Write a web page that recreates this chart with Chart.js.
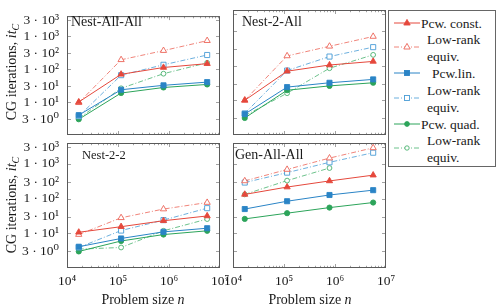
<!DOCTYPE html>
<html><head><meta charset="utf-8">
<script src="https://cdn.jsdelivr.net/npm/chart.js@4.4.1/dist/chart.umd.min.js"></script>
<style>
html,body{margin:0;padding:0;background:#fff}
body{width:498px;height:308px;position:relative;overflow:hidden;font-family:"Liberation Serif","DejaVu Serif",serif;color:#1a1a1a}
canvas.cv{position:absolute;left:0;top:0}
.t{position:absolute;white-space:nowrap;line-height:1}
.ytitle{position:absolute;white-space:nowrap;font-size:14px;line-height:1;transform:translate(-50%,-50%) rotate(-90deg)}
.sub{font-size:10px;position:relative;top:3px}
#legend{position:absolute;left:388px;top:10px;width:108px;height:157px;border:1px solid #666;box-sizing:border-box;background:#fff}
.lg{position:absolute;font-size:13.5px;line-height:1;white-space:nowrap}
svg.mk{position:absolute}
</style></head>
<body>
<canvas class="cv" id="c0" width="498" height="308"></canvas>
<canvas class="cv" id="c1" width="498" height="308"></canvas>
<canvas class="cv" id="c2" width="498" height="308"></canvas>
<canvas class="cv" id="c3" width="498" height="308"></canvas>
<div id="overlay"></div>
<script>
// ---------- data ----------
const problemSizes = [1.7e4, 1.15e5, 7.8e5, 5.6e6];
const xTickValues = [1e4, 1e5, 1e6, 1e7];
const xTickLabels = ['10\u2074', '10\u2075', '10\u2076', '10\u2077'];
const yTickValues = [3, 10, 30, 100, 300, 1000, 3000];
const yTickLabels = ['3 \u00b7 10\u2070', '1 \u00b7 10\u00b9', '3 \u00b7 10\u00b9', '1 \u00b7 10\u00b2', '3 \u00b7 10\u00b2', '1 \u00b7 10\u00b3', '3 \u00b7 10\u00b3'];
const seriesLabels = ['Pcw. const.', 'Low-rank equiv.', 'Pcw.lin.', 'Low-rank equiv.', 'Pcw. quad.', 'Low-rank equiv.'];
const panelTitles = ['Nest-All-All', 'Nest-2-All', 'Nest-2-2', 'Gen-All-All'];

// Nest-All-All
const nestAllAllConst   = [10, 69, 111, 145];
const nestAllAllConstLR = [9.5, 190, 360, 720];
const nestAllAllLin     = [4.0, 23.5, 32, 40];
const nestAllAllLinLR   = [3.7, 65, 134, 265];
const nestAllAllQuad    = [3.0, 18.7, 27.5, 34];
const nestAllAllQuadLR  = [3.2, 26, 72, 154];
// Nest-2-All
const nest2AllConst   = [10, 69, 104, 132];
const nest2AllConstLR = [10, 190, 360, 690];
const nest2AllLin     = [4.0, 24, 32, 40];
const nest2AllLinLR   = [4.2, 72, 182, 340];
const nest2AllQuad    = [3.1, 19.5, 26, 32];
const nest2AllQuadLR  = [3.6, 16, 84, 204];
// Nest-2-2
const nest22Const   = [10.7, 15.5, 23, 31.6];
const nest22ConstLR = [9.2, 28, 50, 77];
const nest22Lin     = [4.1, 7.1, 11, 14];
const nest22LinLR   = [3.9, 12, 24, 53];
const nest22Quad    = [3.0, 6.0, 9.2, 11.8];
const nest22QuadLR  = [3.5, 3.9, 11.8, 25.7];
// Gen-All-All
const genAllAllConst   = [132, 215, 323, 474];
const genAllAllConstLR = [323, 690, 1470, 2900];
const genAllAllLin     = [50, 84, 127, 175];
const genAllAllLinLR   = [290, 560, 1110, 2100];
const genAllAllQuad    = [26, 38, 55, 77];
const genAllAllQuadLR  = [132, 330, 760, null];

const panelSeries = [
  [nestAllAllConst, nestAllAllConstLR, nestAllAllLin, nestAllAllLinLR, nestAllAllQuad, nestAllAllQuadLR],
  [nest2AllConst, nest2AllConstLR, nest2AllLin, nest2AllLinLR, nest2AllQuad, nest2AllQuadLR],
  [nest22Const, nest22ConstLR, nest22Lin, nest22LinLR, nest22Quad, nest22QuadLR],
  [genAllAllConst, genAllAllConstLR, genAllAllLin, genAllAllLinLR, genAllAllQuad, genAllAllQuadLR]
];

// ---------- styles ----------
const RED = 'rgb(229,72,60)', BLUE = 'rgb(42,132,198)', GREEN = 'rgb(44,164,90)';
const REDL = 'rgb(236,100,88)', BLUEL = 'rgb(72,156,214)', GREENL = 'rgb(72,178,110)';
const DASH = [5, 2, 1, 2];
const styles = [
  {line: RED,   mk: RED,   dash: [],   lw: 1.0, ps: 'triangle', r: 3.6, filled: true},
  {line: REDL,  mk: REDL,  dash: DASH, lw: 0.8, ps: 'triangle', r: 3.6, filled: false},
  {line: BLUE,  mk: BLUE,  dash: [],   lw: 1.0, ps: 'rect',     r: 3.6, filled: true},
  {line: BLUEL, mk: BLUEL, dash: DASH, lw: 0.8, ps: 'rect',     r: 3.6, filled: false},
  {line: GREEN, mk: GREEN, dash: [],   lw: 1.0, ps: 'circle',   r: 2.6, filled: true},
  {line: GREENL,mk: GREENL,dash: DASH, lw: 0.8, ps: 'circle',   r: 2.4, filled: false}
];

// panel geometry (plot areas)
const W = 498, H = 308;
const panels = [
  {left: 67,  right: 220, top: 10,  bottom: 135, showX: false, showY: true},
  {left: 233, right: 386, top: 10,  bottom: 135, showX: false, showY: false},
  {left: 67,  right: 220, top: 143, bottom: 268, showX: true,  showY: true},
  {left: 233, right: 386, top: 143, bottom: 268, showX: true,  showY: false}
];

const FONT = {family: '"Liberation Serif", "DejaVu Serif", serif', size: 13.5};

const pgfAxes = {
  id: 'pgfAxes',
  beforeDatasetsDraw(chart) {
    const {ctx, chartArea: a, scales: {x, y}} = chart;
    ctx.save();
    ctx.lineWidth = 0.8;
    ctx.strokeStyle = '#8a8a8a';
    ctx.beginPath();
    for (let k = 4; k < 7; k++) {
      for (let m = 1; m <= 9; m++) {
        const v = m * Math.pow(10, k);
        const px = Math.round(x.getPixelForValue(v)) + 0.5;
        const len = m === 1 ? 4 : 2.2;
        ctx.moveTo(px, a.bottom); ctx.lineTo(px, a.bottom - len);
        ctx.moveTo(px, a.top); ctx.lineTo(px, a.top + len);
      }
    }
    yTickValues.forEach(v => {
      const py = Math.round(y.getPixelForValue(v)) + 0.5;
      ctx.moveTo(a.left, py); ctx.lineTo(a.left + 4, py);
      ctx.moveTo(a.right, py); ctx.lineTo(a.right - 4, py);
    });
    ctx.stroke();
    ctx.lineWidth = 1;
    ctx.strokeStyle = '#5a5a5a';
    ctx.strokeRect(a.left + 0.5, a.top + 0.5, a.width - 1, a.height - 1);
    ctx.restore();
  }
};

panels.forEach((p, i) => {
  const datasets = panelSeries[i].map((vals, j) => {
    const s = styles[j];
    return {
      label: seriesLabels[j],
      data: problemSizes.map((n, k) => ({x: n, y: vals[k]})),
      borderColor: s.line,
      borderWidth: s.lw,
      borderDash: s.dash,
      pointStyle: s.ps,
      pointRadius: s.r,
      pointBorderWidth: 0.9,
      pointBorderColor: s.mk,
      pointBackgroundColor: s.filled ? s.mk : '#ffffff',
      fill: false,
      tension: 0,
      spanGaps: false
    };
  });
  new Chart(document.getElementById('c' + i), {
    type: 'line',
    data: {datasets},
    options: {
      responsive: false,
      animation: false,
      events: [],
      layout: {autoPadding: false, padding: {left: 0, right: W - p.right, top: p.top, bottom: 0}},
      plugins: {legend: {display: false}, tooltip: {enabled: false}, title: {display: false}},
      scales: {
        x: {
          type: 'logarithmic', min: 1e4, max: 1e7,
          afterBuildTicks: s => { s.ticks = xTickValues.map(v => ({value: v})); },
          afterFit: s => { s.height = H - p.bottom; },
          ticks: {display: p.showX, autoSkip: false, maxRotation: 0, padding: 5, color: '#1a1a1a', font: FONT,
                  callback: (v, idx) => xTickLabels[idx]},
          grid: {display: false, drawTicks: false},
          border: {display: false}
        },
        y: {
          type: 'logarithmic', min: 1, max: 4000,
          afterBuildTicks: s => { s.ticks = yTickValues.map(v => ({value: v})); },
          afterFit: s => { s.width = p.left; },
          ticks: {display: p.showY, autoSkip: false, padding: 8, color: '#1a1a1a', font: FONT,
                  callback: (v, idx) => yTickLabels[idx]},
          grid: {display: false, drawTicks: false},
          border: {display: false}
        }
      }
    },
    plugins: [pgfAxes]
  });
});

// ---------- text overlays ----------
const ov = document.getElementById('overlay');
function addText(html, x, y, size, cls) {
  const d = document.createElement('div');
  d.className = cls || 't';
  d.innerHTML = html;
  d.style.left = x + 'px';
  d.style.top = y + 'px';
  if (size) d.style.fontSize = size + 'px';
  ov.appendChild(d);
  return d;
}
// panel titles
addText(panelTitles[0], 71, 15, 14);
addText(panelTitles[1], 242, 15, 14);
addText(panelTitles[2], 82, 149, 12.5);
addText(panelTitles[3], 235, 148, 14);
// y titles
[72, 205].forEach(cy => {
  addText('CG iterations, <i>it</i><span class="sub"><i>C</i></span>', 12, cy, null, 'ytitle');
});
// x titles
[143, 310].forEach(cx => {
  const d = addText('Problem size <i>n</i>', cx, 293, 14);
  d.style.transform = 'translateX(-50%)';
});

// ---------- legend ----------
const lg = document.createElement('div');
lg.id = 'legend';
document.body.appendChild(lg);
const rows = [
  {lines: ['Pcw. const.'], x: [32], y: 12},
  {lines: ['Low-rank', 'equiv.'], x: [38, 38], y: 28},
  {lines: ['Pcw.lin.'], x: [43], y: 62},
  {lines: ['Low-rank', 'equiv.'], x: [38, 38], y: 79},
  {lines: ['Pcw. quad.'], x: [32], y: 113},
  {lines: ['Low-rank', 'equiv.'], x: [38, 38], y: 129}
];
rows.forEach((r, j) => {
  const s = styles[j];
  r.lines.forEach((t, li) => {
    const d = document.createElement('div');
    d.className = 'lg';
    d.textContent = t;
    d.style.left = r.x[li] + 'px';
    d.style.top = (r.y - 6 + li * 16.8) + 'px';
    lg.appendChild(d);
  });
  const my = r.lines.length === 1 ? r.y : r.y + 8.4;
  const ns = 'http://www.w3.org/2000/svg';
  const svg = document.createElementNS(ns, 'svg');
  svg.setAttribute('class', 'mk');
  svg.setAttribute('width', '28'); svg.setAttribute('height', '12');
  svg.style.left = '4px'; svg.style.top = (my - 6) + 'px';
  const ln = document.createElementNS(ns, 'line');
  ln.setAttribute('x1', '1'); ln.setAttribute('x2', '27'); ln.setAttribute('y1', '6'); ln.setAttribute('y2', '6');
  ln.setAttribute('stroke', s.line); ln.setAttribute('stroke-width', s.lw);
  if (s.dash.length) ln.setAttribute('stroke-dasharray', s.dash.join(','));
  svg.appendChild(ln);
  let m;
  const fill = s.filled ? s.mk : '#fff';
  if (s.ps === 'triangle') {
    m = document.createElementNS(ns, 'polygon');
    m.setAttribute('points', '14,2.4 17.2,8 10.8,8');
  } else if (s.ps === 'rect') {
    m = document.createElementNS(ns, 'rect');
    m.setAttribute('x', '11.5'); m.setAttribute('y', '3.5'); m.setAttribute('width', '5'); m.setAttribute('height', '5');
  } else {
    m = document.createElementNS(ns, 'circle');
    m.setAttribute('cx', '14'); m.setAttribute('cy', '6'); m.setAttribute('r', s.filled ? '2.4' : '2.2');
  }
  m.setAttribute('fill', fill); m.setAttribute('stroke', s.mk); m.setAttribute('stroke-width', '0.9');
  svg.appendChild(m);
  lg.appendChild(svg);
});
</script>
</body></html>
